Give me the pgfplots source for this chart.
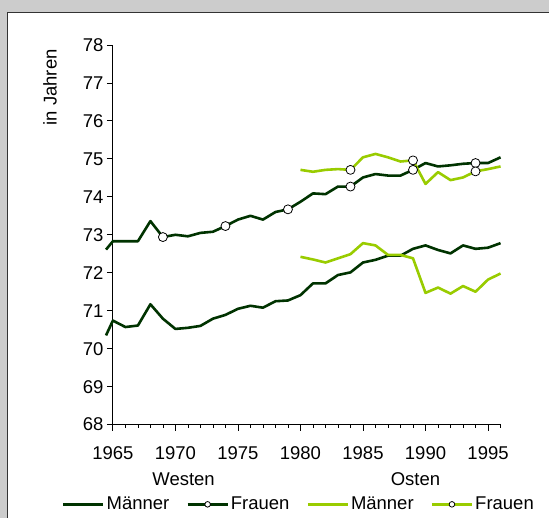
\documentclass[border=0pt]{standalone}
\usepackage{fontspec}
\setmainfont{Liberation Sans}
\usepackage{pgfplots}
\pgfplotsset{compat=1.18}

\definecolor{bgray}{RGB}{204,204,204}
\definecolor{dkgreen}{RGB}{0,51,0}
\definecolor{ltgreen}{RGB}{153,204,0}

\newcommand{\chartfont}{\fontsize{18.5}{21}\selectfont}

\begin{document}
\begin{tikzpicture}
\fill[bgray] (0pt,0pt) rectangle (549pt,-518pt);
\fill[white] (8pt,-13pt) rectangle (549pt,-518pt);
\draw[black!80, line width=1pt] (8pt,-518pt) -- (8pt,-13pt) -- (549pt,-13pt);
\node[rotate=90, font=\chartfont] at (50pt,-87.5pt) {in Jahren};

\begin{axis}[
  at={(113pt,-425pt)}, anchor=south west,
  scale only axis, width=388pt, height=380pt,
  axis lines=left, axis line style={-, line width=0.8pt},
  xmin=1965, xmax=1996, ymin=68, ymax=78,
  xtick={1965,1970,...,1995}, minor xtick={1965,...,1996},
  ytick={68,...,78},
  tick align=outside, major tick length=6pt, minor tick length=3pt,
  tick style={black, line width=0.8pt},
  /pgf/number format/assume math mode=true,
  xticklabel style={/pgf/number format/1000 sep={}, yshift=-12pt},
  ticklabel style={font=\chartfont},
  clip=false,
  legend columns=4,
  legend style={at={(0.48,-0.21)}, anchor=center, draw=none, fill=none,
    font=\chartfont, inner sep=0pt,
    /tikz/every even column/.append style={column sep=15pt}},
  legend image code/.code={%
    \draw[#1, mark repeat=2, mark phase=2, mark size=2.8pt]
      plot coordinates {(0pt,0pt) (20pt,0pt) (40pt,0pt)};},
]
% West, Maenner
\addplot[dkgreen, line width=2.6pt, line join=round] coordinates {
  (1964.45,70.35)(1965,70.74)(1966,70.57)(1967,70.61)(1968,71.17)(1969,70.79)
  (1970,70.52)(1971,70.55)(1972,70.60)(1973,70.79)(1974,70.89)(1975,71.05)
  (1976,71.13)(1977,71.08)(1978,71.25)(1979,71.27)(1980,71.41)(1981,71.72)
  (1982,71.72)(1983,71.94)(1984,72.01)(1985,72.27)(1986,72.34)(1987,72.45)
  (1988,72.45)(1989,72.63)(1990,72.72)(1991,72.60)(1992,72.51)(1993,72.72)
  (1994,72.63)(1995,72.66)(1996,72.78)};
\addlegendentry{Männer}
% West, Frauen
\addplot[dkgreen, line width=2.6pt, line join=round, mark=*, mark size=4.5pt,
  mark repeat=5, mark phase=6,
  mark options={solid, fill=white, draw=black, line width=0.8pt}] coordinates {
  (1964.45,72.61)(1965,72.83)(1966,72.83)(1967,72.83)(1968,73.36)(1969,72.94)
  (1970,73.00)(1971,72.96)(1972,73.05)(1973,73.08)(1974,73.23)(1975,73.40)
  (1976,73.50)(1977,73.40)(1978,73.60)(1979,73.67)(1980,73.87)(1981,74.09)
  (1982,74.07)(1983,74.27)(1984,74.27)(1985,74.51)(1986,74.60)(1987,74.56)
  (1988,74.56)(1989,74.71)(1990,74.89)(1991,74.80)(1992,74.83)(1993,74.87)
  (1994,74.89)(1995,74.89)(1996,75.04)};
\addlegendentry{Frauen}
% Ost, Maenner
\addplot[ltgreen, line width=2.6pt, line join=round] coordinates {
  (1980,72.42)(1981,72.35)(1982,72.27)(1983,72.38)(1984,72.49)(1985,72.78)
  (1986,72.72)(1987,72.47)(1988,72.47)(1989,72.38)(1990,71.47)(1991,71.61)
  (1992,71.45)(1993,71.65)(1994,71.50)(1995,71.82)(1996,71.98)};
\addlegendentry{Männer}
% Ost, Frauen
\addplot[ltgreen, line width=2.6pt, line join=round, mark=*, mark size=4.5pt,
  mark repeat=5, mark phase=5,
  mark options={solid, fill=white, draw=black, line width=0.8pt}] coordinates {
  (1980,74.71)(1981,74.66)(1982,74.71)(1983,74.73)(1984,74.71)(1985,75.04)
  (1986,75.13)(1987,75.04)(1988,74.93)(1989,74.96)(1990,74.34)(1991,74.65)
  (1992,74.44)(1993,74.51)(1994,74.67)(1995,74.73)(1996,74.80)};
\addlegendentry{Frauen}

\node[anchor=base, font=\chartfont, yshift=-61pt] at (axis cs:1970.65,68) {Westen};
\node[anchor=base, font=\chartfont, yshift=-61pt] at (axis cs:1989.2,68) {Osten};
\end{axis}
\end{tikzpicture}
\end{document}
